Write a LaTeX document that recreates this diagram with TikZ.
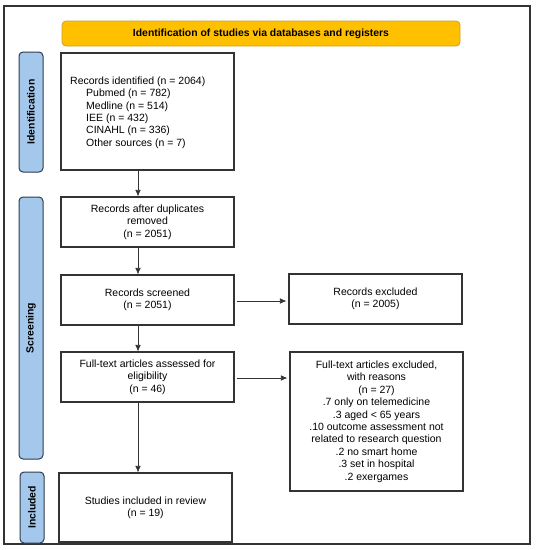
\documentclass[tikz,border=0pt]{standalone}
\usepackage{fontspec}
\setmainfont{Liberation Sans}
\usetikzlibrary{arrows.meta,calc}
\definecolor{bannerfill}{HTML}{FFC000}
\definecolor{bannerdraw}{HTML}{C9A227}
\definecolor{phasefill}{HTML}{A4C8EC}
\definecolor{phasedraw}{HTML}{2E3B4E}
\definecolor{boxdraw}{HTML}{333333}
\tikzset{
  box/.style={draw=boxdraw, line width=1.1pt, fill=white, inner sep=0pt, align=center,
    font=\fontsize{10.5}{12.4}\selectfont},
  banner/.style={draw=bannerdraw, line width=0.8pt, fill=bannerfill, rounded corners=4pt,
    inner sep=0pt, font=\bfseries\fontsize{10.4}{12}\selectfont},
  phase/.style={draw=phasedraw, line width=1pt, fill=phasefill, rounded corners=4pt,
    rotate=90, inner sep=0pt, font=\bfseries\fontsize{10.4}{12}\selectfont},
  arr/.style={-{Latex[length=6.5pt,width=5.5pt]}, line width=0.7pt, draw=boxdraw},
}
\begin{document}
\begin{tikzpicture}[x=1pt,y=-1pt]
\useasboundingbox (0,0) rectangle (536,550);
\draw[line width=1.2pt, draw=boxdraw] (4,6) rectangle (530,544);
\node[banner, minimum width=398pt, minimum height=25pt] (ban) at (261,33.5) {Identification of studies via databases and registers};
\node[phase, minimum width=120pt, minimum height=24pt] (pid) at (31,112) {Identification};
\node[phase, minimum width=262pt, minimum height=24pt] (psc) at (31,328) {Screening};
\node[phase, minimum width=71pt, minimum height=24pt] (pin) at (32,507.5) {Included};
\node[box, minimum width=173pt, minimum height=117pt] (b1) at (147.5,111.5) {};
\node[anchor=west, inner sep=0pt, align=left, font=\fontsize{10.5}{12.4}\selectfont] (b1t) at (70,112.5) {Records identified (n = 2064)\\
\hspace*{16pt}Pubmed (n = 782)\\
\hspace*{16pt}Medline (n = 514)\\
\hspace*{16pt}IEE (n = 432)\\
\hspace*{16pt}CINAHL (n = 336)\\
\hspace*{16pt}Other sources (n = 7)};
\node[box, minimum width=173pt, minimum height=50pt] (b2) at (147.5,222) {Records after duplicates\\removed\\(n = 2051)};
\node[box, minimum width=173pt, minimum height=50pt] (b3) at (147.5,300) {Records screened\\(n = 2051)};
\node[box, minimum width=173pt, minimum height=50pt] (b3x) at (375.5,299) {Records excluded\\(n = 2005)};
\node[box, minimum width=173pt, minimum height=50pt] (b4) at (147.5,377) {Full-text articles assessed for\\eligibility\\(n = 46)};
\node[box, minimum width=173pt, minimum height=139pt] (b4x) at (376.5,421.5) {Full-text articles excluded,\\with reasons\\(n = 27)\\.7 only on telemedicine\\.3 aged < 65 years\\.10 outcome assessment not\\related to research question\\.2 no smart home\\.3 set in hospital\\.2 exergames};
\node[box, minimum width=173pt, minimum height=69pt] (b5) at (145.5,507.5) {Studies included in review\\(n = 19)};
\coordinate (ax) at (138,0);
\draw[arr] (b1.south -| ax) -- (b2.north -| ax);
\draw[arr] (b2.south -| ax) -- (b3.north -| ax);
\draw[arr] (b3.south -| ax) -- (b4.north -| ax);
\draw[arr] (b4.south -| ax) -- (b5.north -| ax);
\draw[arr, shorten <=2pt, shorten >=2pt] (b3.east |- 0,301) -- (b3x.west |- 0,301);
\draw[arr, shorten <=2pt, shorten >=2pt] (b4.east |- 0,378) -- (b4x.west |- 0,378);
\end{tikzpicture}
\end{document}
